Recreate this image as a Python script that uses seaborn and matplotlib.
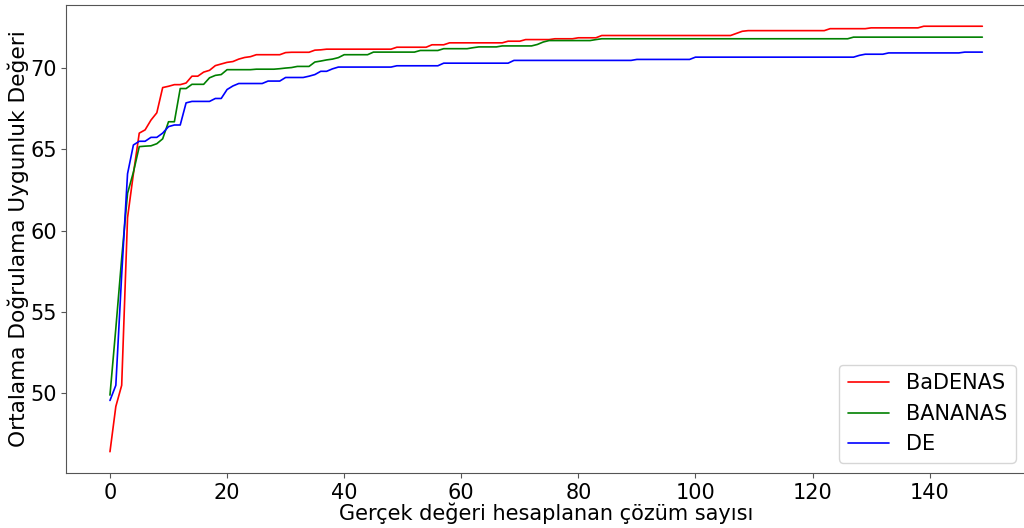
import matplotlib
matplotlib.use("Agg")
import matplotlib.pyplot as plt
import pandas as pd
import seaborn as sns

# evaluation index (number of solutions whose true value was computed)
evaluations = list(range(150))

badenas = [
    46.42, 49.2, 50.5, 60.8, 63.5, 66.0, 66.2, 66.8, 67.25, 68.8,
    68.88, 68.98, 68.98, 69.08, 69.5, 69.5, 69.75, 69.86, 70.15, 70.25,
    70.35, 70.4, 70.55, 70.65, 70.7, 70.82, 70.82, 70.82, 70.82, 70.82,
    70.95, 70.97, 70.97, 70.97, 70.97, 71.1, 71.12, 71.16, 71.16, 71.16,
    71.16, 71.16, 71.16, 71.16, 71.16, 71.16, 71.16, 71.16, 71.16, 71.28,
    71.28, 71.28, 71.28, 71.28, 71.28, 71.43, 71.43, 71.43, 71.55, 71.55,
    71.55, 71.55, 71.55, 71.55, 71.55, 71.55, 71.55, 71.55, 71.65, 71.65,
    71.65, 71.75, 71.75, 71.75, 71.75, 71.75, 71.8, 71.8, 71.8, 71.8,
    71.86, 71.86, 71.86, 71.86, 72.0, 72.0, 72.0, 72.0, 72.0, 72.0,
    72.0, 72.0, 72.0, 72.0, 72.0, 72.0, 72.0, 72.0, 72.0, 72.0,
    72.0, 72.0, 72.0, 72.0, 72.0, 72.0, 72.0, 72.13, 72.26, 72.3,
    72.3, 72.3, 72.3, 72.3, 72.3, 72.3, 72.3, 72.3, 72.3, 72.3,
    72.3, 72.3, 72.3, 72.42, 72.42, 72.42, 72.42, 72.42, 72.42, 72.42,
    72.47, 72.47, 72.47, 72.47, 72.47, 72.47, 72.47, 72.47, 72.47, 72.57,
    72.57, 72.57, 72.57, 72.57, 72.57, 72.57, 72.57, 72.57, 72.57, 72.57,
]

bananas = [
    49.9, 54.0, 58.3, 62.3, 63.6, 65.17, 65.2, 65.22, 65.35, 65.65,
    66.7, 66.7, 68.74, 68.74, 69.0, 69.0, 69.0, 69.4, 69.55, 69.6,
    69.9, 69.9, 69.9, 69.9, 69.9, 69.93, 69.93, 69.93, 69.93, 69.96,
    70.0, 70.03, 70.1, 70.1, 70.1, 70.37, 70.43, 70.5, 70.55, 70.64,
    70.82, 70.82, 70.82, 70.82, 70.82, 70.98, 70.98, 70.98, 70.98, 70.98,
    70.98, 70.98, 70.98, 71.08, 71.08, 71.08, 71.08, 71.19, 71.19, 71.19,
    71.19, 71.19, 71.25, 71.3, 71.3, 71.3, 71.3, 71.36, 71.36, 71.36,
    71.36, 71.36, 71.36, 71.45, 71.6, 71.69, 71.69, 71.69, 71.69, 71.69,
    71.69, 71.69, 71.69, 71.75, 71.8, 71.8, 71.8, 71.8, 71.8, 71.8,
    71.8, 71.8, 71.8, 71.8, 71.8, 71.8, 71.8, 71.8, 71.8, 71.8,
    71.8, 71.8, 71.8, 71.8, 71.8, 71.8, 71.8, 71.8, 71.8, 71.8,
    71.8, 71.8, 71.8, 71.8, 71.8, 71.8, 71.8, 71.8, 71.8, 71.8,
    71.8, 71.8, 71.8, 71.8, 71.8, 71.8, 71.8, 71.9, 71.9, 71.9,
    71.9, 71.9, 71.9, 71.9, 71.9, 71.9, 71.9, 71.9, 71.9, 71.9,
    71.9, 71.9, 71.9, 71.9, 71.9, 71.9, 71.9, 71.9, 71.9, 71.9,
]

de = [
    49.57, 50.5, 57.3, 63.5, 65.27, 65.5, 65.5, 65.74, 65.74, 66.0,
    66.4, 66.5, 66.5, 67.86, 67.95, 67.95, 67.95, 67.95, 68.13, 68.13,
    68.68, 68.9, 69.05, 69.05, 69.05, 69.05, 69.05, 69.2, 69.2, 69.2,
    69.42, 69.42, 69.42, 69.42, 69.5, 69.6, 69.8, 69.8, 69.95, 70.06,
    70.06, 70.06, 70.06, 70.06, 70.06, 70.06, 70.06, 70.06, 70.06, 70.14,
    70.14, 70.14, 70.14, 70.14, 70.14, 70.14, 70.14, 70.3, 70.3, 70.3,
    70.3, 70.3, 70.3, 70.3, 70.3, 70.3, 70.3, 70.3, 70.3, 70.47,
    70.47, 70.47, 70.47, 70.47, 70.47, 70.47, 70.47, 70.47, 70.47, 70.47,
    70.47, 70.47, 70.47, 70.47, 70.47, 70.47, 70.47, 70.47, 70.47, 70.47,
    70.53, 70.53, 70.53, 70.53, 70.53, 70.53, 70.53, 70.53, 70.53, 70.53,
    70.67, 70.67, 70.67, 70.67, 70.67, 70.67, 70.67, 70.67, 70.67, 70.67,
    70.67, 70.67, 70.67, 70.67, 70.67, 70.67, 70.67, 70.67, 70.67, 70.67,
    70.67, 70.67, 70.67, 70.67, 70.67, 70.67, 70.67, 70.67, 70.78, 70.85,
    70.85, 70.85, 70.85, 70.93, 70.93, 70.93, 70.93, 70.93, 70.93, 70.93,
    70.93, 70.93, 70.93, 70.93, 70.93, 70.93, 70.98, 70.98, 70.98, 70.98,
]

methods = ["BaDENAS", "BANANAS", "DE"]
line_colors = ["red", "green", "blue"]

# long-form table for seaborn
df = pd.DataFrame({"evals": evaluations, "BaDENAS": badenas,
                   "BANANAS": bananas, "DE": de})
df = df.melt(id_vars="evals", var_name="method", value_name="fitness")

sns.set_style("ticks", {"text.color": "black", "xtick.color": "black",
                        "ytick.color": "black", "axes.labelcolor": "black"})
plt.rcParams["font.family"] = ["DejaVu Sans"]

fig = plt.figure(figsize=(10.24, 5.28), dpi=100)
# right spine sits just past the canvas edge, as in the reference crop
ax = fig.add_axes([0.0648, 0.1042, 0.9371, 0.8864])

sns.lineplot(data=df, x="evals", y="fitness", hue="method",
             hue_order=methods, palette=dict(zip(methods, line_colors)),
             linewidth=1.2, ax=ax)

ax.set_xlabel("Gerçek değeri hesaplanan çözüm sayısı", fontsize=15, labelpad=0)
ax.set_ylabel("Ortalama Doğrulama Uygunluk Değeri", fontsize=15.6, labelpad=1)
ax.set_yticks([50, 55, 60, 65, 70])
ax.set_xticks([0, 20, 40, 60, 80, 100, 120, 140])
ax.tick_params(labelsize=15, colors="black")
ax.tick_params(color="#555555")
for spine in ax.spines.values():
    spine.set_color("#555555")
ax.legend(loc="lower right", fontsize=15)

fig.savefig("out.png", dpi=100)
plt.close(fig)
